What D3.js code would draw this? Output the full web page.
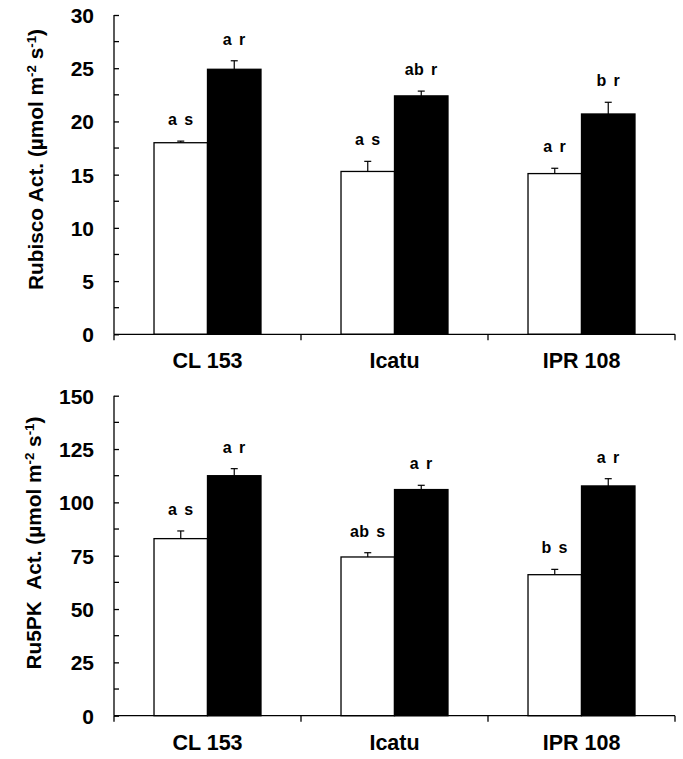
<!DOCTYPE html>
<html>
<head>
<meta charset="utf-8">
<script src="https://cdn.jsdelivr.net/npm/d3@7"></script>
<style>
  html, body { margin: 0; padding: 0; background: #fff; }
  svg { display: block; font-family: "Liberation Sans", Arial, sans-serif; }
</style>
</head>
<body>
<svg id="chart" width="683" height="759"></svg>
<script>
// ---- data ----
const categories = ["CL 153", "Icatu", "IPR 108"];
const seriesNames = ["control", "elevated"];

const rubiscoControl = [18.0, 15.3, 15.1];
const rubiscoControlErr = [0.15, 0.95, 0.5];
const rubiscoElevated = [24.9, 22.4, 20.7];
const rubiscoElevatedErr = [0.8, 0.45, 1.1];
const rubiscoControlLetters = ["a s", "a s", "a r"];
const rubiscoElevatedLetters = ["a r", "ab r", "b r"];
const rubiscoTicks = [0, 5, 10, 15, 20, 25, 30];

const ru5pkControl = [83.0, 74.4, 66.1];
const ru5pkControlErr = [3.6, 2.0, 2.5];
const ru5pkElevated = [112.5, 106.0, 107.7];
const ru5pkElevatedErr = [3.3, 2.0, 3.4];
const ru5pkControlLetters = ["a s", "ab s", "b s"];
const ru5pkElevatedLetters = ["a r", "a r", "a r"];
const ru5pkTicks = [0, 25, 50, 75, 100, 125, 150];

const svg = d3.select("#chart");

function panel(opts) {
  const g = svg.append("g");
  const x = d3.scaleBand().domain(categories).range([114, 675]).paddingInner(0).paddingOuter(0);
  const xs = d3.scaleBand().domain(seriesNames).range([0, x.bandwidth()]).paddingInner(0).paddingOuter(0.748);
  const y = d3.scaleLinear().domain([0, opts.max]).range([opts.bottom, opts.top]);

  const rows = [];
  categories.forEach((c, i) => {
    rows.push({cat: c, s: "control", v: opts.control[i], e: opts.controlErr[i], lab: opts.controlLetters[i]});
    rows.push({cat: c, s: "elevated", v: opts.elevated[i], e: opts.elevatedErr[i], lab: opts.elevatedLetters[i]});
  });

  // error bars
  const eb = g.append("g").attr("stroke", "#000").attr("stroke-width", 1.2);
  rows.forEach(d => {
    const cx = x(d.cat) + xs(d.s) + xs.bandwidth() / 2;
    eb.append("line").attr("x1", cx).attr("x2", cx).attr("y1", y(d.v)).attr("y2", y(d.v + d.e));
    eb.append("line").attr("x1", cx - 3.5).attr("x2", cx + 3.5).attr("y1", y(d.v + d.e)).attr("y2", y(d.v + d.e));
  });

  // bars
  g.append("g").selectAll("rect").data(rows).join("rect")
    .attr("x", d => x(d.cat) + xs(d.s))
    .attr("y", d => y(d.v))
    .attr("width", xs.bandwidth())
    .attr("height", d => y(0) - y(d.v))
    .attr("fill", d => d.s === "control" ? "#fff" : "#000")
    .attr("stroke", "#000")
    .attr("stroke-width", 1.3);

  // letters
  g.append("g").selectAll("text").data(rows).join("text")
    .attr("x", d => x(d.cat) + xs(d.s) + xs.bandwidth() / 2)
    .attr("y", d => y(d.v + d.e) - 16)
    .attr("text-anchor", "middle")
    .attr("font-size", 16)
    .attr("font-weight", "bold")
    .attr("word-spacing", 2)
    .attr("letter-spacing", 0.4)
    .text(d => d.lab);

  // y axis
  const yAxis = d3.axisLeft(y).tickValues(opts.ticks).tickSize(-5).tickPadding(20).tickFormat(d3.format("d"));
  const ya = g.append("g").attr("transform", "translate(114,0)").call(yAxis);
  ya.select(".domain").attr("d", `M0,${opts.top}V${opts.bottom}`);
  const minor = d3.range(opts.ticks.length - 1).map(i => (opts.ticks[i] + opts.ticks[i + 1]) / 2);
  ya.selectAll(".minor").data(minor).join("line").attr("class", "minor")
    .attr("x1", 0).attr("x2", 5).attr("y1", d => y(d)).attr("y2", d => y(d)).attr("stroke", "#000");
  ya.selectAll("path, line").attr("stroke", "#000").attr("stroke-width", 1.3);
  ya.selectAll("text").attr("font-size", 21).attr("font-weight", "bold").attr("fill", "#000")
    .attr("font-family", "'Liberation Sans', Arial, sans-serif").attr("dy", "0.36em");

  // x axis
  const xa = g.append("g").attr("transform", `translate(0,${opts.bottom})`);
  xa.append("line").attr("x1", 114).attr("x2", 675).attr("y1", 0).attr("y2", 0).attr("stroke", "#000").attr("stroke-width", 1.3);
  const bounds = categories.map(c => x(c)).concat([x.range()[1]]);
  xa.selectAll(".xt").data(bounds).join("line").attr("class", "xt")
    .attr("x1", d => d).attr("x2", d => d).attr("y1", 0).attr("y2", 6).attr("stroke", "#000").attr("stroke-width", 1.3);
  xa.selectAll(".xl").data(categories).join("text").attr("class", "xl")
    .attr("x", d => x(d) + x.bandwidth() / 2).attr("y", 34)
    .attr("text-anchor", "middle").attr("font-size", 21.5).attr("font-weight", "bold").text(d => d);

  // y title
  const fs = 20.8;
  const t = g.append("text")
    .attr("transform", `translate(${opts.titleX},${opts.titleY}) rotate(-90)`)
    .attr("text-anchor", "middle").attr("font-size", fs).attr("font-weight", "bold");
  t.append("tspan").text(opts.title);
  t.append("tspan").attr("dx", opts.gap).text("Act. (µmol m");
  t.append("tspan").attr("font-size", fs * 0.64).attr("baseline-shift", "super").text("-2");
  t.append("tspan").text(" s");
  t.append("tspan").attr("font-size", fs * 0.64).attr("baseline-shift", "super").text("-1");
  t.append("tspan").text(")");
}

panel({
  max: 30, top: 15, bottom: 334.3, ticks: rubiscoTicks,
  control: rubiscoControl, controlErr: rubiscoControlErr,
  elevated: rubiscoElevated, elevatedErr: rubiscoElevatedErr,
  controlLetters: rubiscoControlLetters, elevatedLetters: rubiscoElevatedLetters,
  title: "Rubisco", gap: 5.8, titleX: 43, titleY: 159.5
});

panel({
  max: 150, top: 395.7, bottom: 715.7, ticks: ru5pkTicks,
  control: ru5pkControl, controlErr: ru5pkControlErr,
  elevated: ru5pkElevated, elevatedErr: ru5pkElevatedErr,
  controlLetters: ru5pkControlLetters, elevatedLetters: ru5pkElevatedLetters,
  title: "Ru5PK", gap: 11.5, titleX: 41, titleY: 543
});
</script>
</body>
</html>
